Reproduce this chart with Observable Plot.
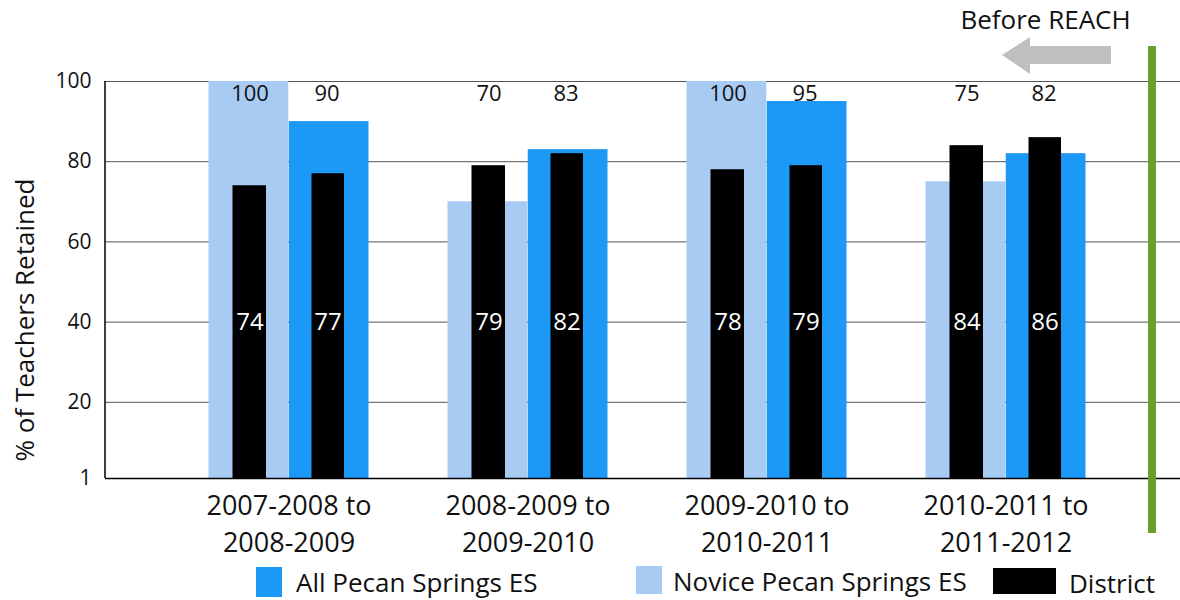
<!DOCTYPE html>
<html><head><meta charset="utf-8">
<script src="https://cdn.jsdelivr.net/npm/d3@7"></script>
<script src="https://cdn.jsdelivr.net/npm/@observablehq/plot@0.6"></script>
<style>
body{margin:0;background:#fff;font-family:"Open Sans",sans-serif;}
#wrap{position:relative;width:1180px;height:600px;}
#chart svg{display:block;}
.sw{position:absolute;}
.lt{position:absolute;font-size:26px;color:#111;line-height:34px;white-space:nowrap;}
</style></head><body>
<div id="wrap"><div id="chart"></div><div id="legend"></div></div>
<script>
const categories = ["2007-2008 to 2008-2009", "2008-2009 to 2009-2010", "2009-2010 to 2010-2011", "2010-2011 to 2011-2012"];
const allPecan = [90, 83, 95, 82];
const novicePecan = [100, 70, 100, 75];
const districtVsNovice = [74, 79, 78, 84];
const districtVsAll = [77, 82, 79, 86];
const yTicks = [1, 20, 40, 60, 80, 100];
const gridValues = [20, 40, 60, 80, 100];
const seriesNames = ["All Pecan Springs ES", "Novice Pecan Springs ES", "District"];
const seriesColors = ["#1c98f7", "#a8cbf4", "#000000"];
const yLabel = "% of Teachers Retained";
const annotation = "Before REACH";

const rows = categories.map((c, i) => ({cat: c, all: allPecan[i], novice: novicePecan[i], dNov: districtVsNovice[i], dAll: districtVsAll[i]}));

const num = {fontVariantNumeric: "oldstyle-nums"};

const chart = Plot.plot({
  width: 1180, height: 564,
  marginLeft: 105, marginRight: 0, marginTop: 81, marginBottom: 86,
  x: {domain: categories, range: [167.5, 1125.5], padding: 0},
  y: {domain: [1, 100]},
  style: {fontFamily: "Open Sans, sans-serif", background: "white", color: "#111"},
  marks: [
    Plot.ruleY(gridValues, {stroke: "#555", strokeWidth: 1}),
    Plot.barY(rows, {x: "cat", y1: 1, y2: "novice", fill: seriesColors[1], insetLeft: 39.5, insetRight: 119.75}),
    Plot.barY(rows, {x: "cat", y1: 1, y2: "all", fill: seriesColors[0], insetLeft: 119.75, insetRight: 39.5}),
    Plot.barY(rows, {x: "cat", y1: 1, y2: "dNov", fill: seriesColors[2], insetLeft: 63.5, insetRight: 142}),
    Plot.barY(rows, {x: "cat", y1: 1, y2: "dAll", fill: seriesColors[2], insetLeft: 142.5, insetRight: 64}),
    Plot.ruleY([1], {stroke: "#000", strokeWidth: 1.5}),
    (index, scales, values, dims) => {
      const g = d3.create("svg:g");
      g.append("line").attr("x1", dims.marginLeft).attr("x2", dims.marginLeft)
        .attr("y1", scales.y(100)).attr("y2", scales.y(1)).attr("stroke", "#000").attr("stroke-width", 1.5);
      g.append("rect").attr("x", dims.width - 32).attr("width", 8).attr("y", 46).attr("height", 487).attr("fill", "#6b9f2c");
      g.append("path").attr("d", "M1002,55 L1030,37 L1030,46 L1111,46 L1111,64 L1030,64 L1030,74 Z").attr("fill", "#bfbfbf");
      return g.node();
    },
    Plot.axisY({ticks: yTicks, tickSize: 0, tickPadding: 14, fontSize: 21, label: null, ...num}),
    Plot.axisX({tickSize: 0, tickPadding: 10, fontSize: 27, lineHeight: 1.37, label: null,
      tickFormat: d => d.replace(" to ", " to\n"), ...num}),
    Plot.text(rows, {x: "cat", text: d => String(d.novice), frameAnchor: "top", lineAnchor: "middle", dy: 12, dx: -39, fontSize: 22, fill: "#111", ...num}),
    Plot.text(rows, {x: "cat", text: d => String(d.all), frameAnchor: "top", lineAnchor: "middle", dy: 12, dx: 38, fontSize: 22, fill: "#111", ...num}),
    Plot.text(rows, {x: "cat", text: d => String(d.dNov), frameAnchor: "bottom", lineAnchor: "middle", dy: -156, dx: -39, fontSize: 24, fill: "#fff"}),
    Plot.text(rows, {x: "cat", text: d => String(d.dAll), frameAnchor: "bottom", lineAnchor: "middle", dy: -156, dx: 39, fontSize: 24, fill: "#fff"}),
    Plot.text([yLabel], {frameAnchor: "left", rotate: -90, dx: -80, dy: 40, fontSize: 26, fill: "#111", textAnchor: "middle", lineAnchor: "middle"}),
    Plot.text([annotation], {frameAnchor: "top-right", dx: -135, dy: -61, fontSize: 26, fill: "#111", textAnchor: "middle", lineAnchor: "middle"})
  ]
});
document.getElementById("chart").appendChild(chart);

const legend = document.getElementById("legend");
const swatches = [
  {left: 256, top: 567, w: 26, h: 30, tx: 296, ty: 565},
  {left: 636, top: 566, w: 26, h: 28, tx: 673, ty: 564},
  {left: 993, top: 568, w: 63, h: 26, tx: 1069, ty: 566}
];
seriesNames.forEach((name, i) => {
  const s = swatches[i];
  const sw = document.createElement("div");
  sw.className = "sw";
  Object.assign(sw.style, {left: s.left + "px", top: s.top + "px", width: s.w + "px", height: s.h + "px", background: seriesColors[i]});
  legend.appendChild(sw);
  const t = document.createElement("div");
  t.className = "lt";
  t.textContent = name;
  Object.assign(t.style, {left: s.tx + "px", top: s.ty + "px"});
  legend.appendChild(t);
});
</script>
</body></html>
